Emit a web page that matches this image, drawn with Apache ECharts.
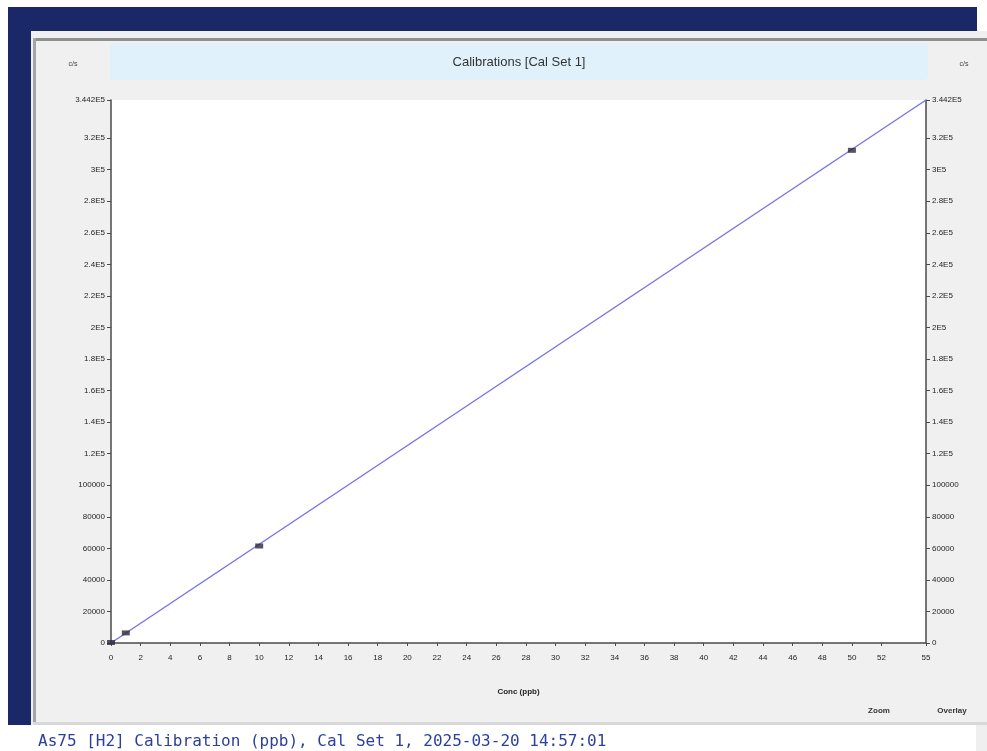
<!DOCTYPE html>
<html>
<head>
<meta charset="utf-8">
<title>Calibrations [Cal Set 1]</title>
<script src="https://cdn.jsdelivr.net/npm/echarts@6/dist/echarts.min.js"></script>
<style>
  html, body { margin: 0; padding: 0; background: #ffffff; }
  #chart { width: 987px; height: 751px; }
</style>
</head>
<body>
<div id="chart"></div>
<script>
// Calibration standards (concentration in ppb, response in counts/s)
const stdConc = [0, 1, 10, 50];
const stdCps = [300, 6400, 61500, 312300];

// Calibration curve end points
const curveConc = [0, 55];
const curveCps = [0, 344200];

// Axis ticks and their labels
const xTickValues = [0, 2, 4, 6, 8, 10, 12, 14, 16, 18, 20, 22, 24, 26, 28, 30, 32, 34, 36, 38, 40, 42, 44, 46, 48, 50, 52, 55];
const xTickLabels = ['0', '2', '4', '6', '8', '10', '12', '14', '16', '18', '20', '22', '24', '26', '28', '30', '32', '34', '36', '38', '40', '42', '44', '46', '48', '50', '52', '55'];
const yTickValues = [0, 20000, 40000, 60000, 80000, 100000, 120000, 140000, 160000, 180000, 200000, 220000, 240000, 260000, 280000, 300000, 320000, 344200];
const yTickLabels = ['0', '20000', '40000', '60000', '80000', '100000', '1.2E5', '1.4E5', '1.6E5', '1.8E5', '2E5', '2.2E5', '2.4E5', '2.6E5', '2.8E5', '3E5', '3.2E5', '3.442E5'];

const chart = echarts.init(document.getElementById('chart'), null, { renderer: 'canvas' });

const labelFont = { fontFamily: 'Liberation Sans, Arial, sans-serif', fontSize: 8, color: '#1e1e1e' };

function yLabel(v) {
  const i = yTickValues.indexOf(v);
  return i >= 0 ? yTickLabels[i] : '';
}
function xLabel(v) {
  const i = xTickValues.indexOf(v);
  return i >= 0 ? xTickLabels[i] : '';
}

function yAxisDef(position) {
  return {
    type: 'value',
    position: position,
    min: 0,
    max: curveCps[1],
    splitLine: { show: false },
    axisLine: { show: true, lineStyle: { color: '#4a4a4a', width: 1.5 } },
    axisTick: { show: true, length: 4, customValues: yTickValues, lineStyle: { color: '#4a4a4a', width: 1 } },
    axisLabel: Object.assign({ customValues: yTickValues, formatter: yLabel, margin: 6 }, labelFont)
  };
}

const option = {
  animation: false,
  backgroundColor: 'transparent',
  grid: {
    left: 111, right: 61, top: 100, bottom: 108,
    show: true, backgroundColor: '#ffffff', borderWidth: 0
  },
  xAxis: {
    type: 'value',
    min: 0,
    max: 55,
    name: 'Conc (ppb)',
    nameLocation: 'middle',
    nameGap: 45,
    nameTextStyle: { fontFamily: 'Liberation Sans, Arial, sans-serif', fontSize: 8, color: '#222', fontWeight: 'bold' },
    splitLine: { show: false },
    axisLine: { show: true, lineStyle: { color: '#4a4a4a', width: 1.5 } },
    axisTick: { show: true, length: 3, customValues: xTickValues, lineStyle: { color: '#4a4a4a', width: 1 } },
    axisLabel: Object.assign({ customValues: xTickValues, formatter: xLabel, margin: 11 }, labelFont)
  },
  yAxis: [yAxisDef('left'), yAxisDef('right')],
  series: [
    {
      name: 'Curve',
      type: 'line',
      data: curveConc.map((c, i) => [c, curveCps[i]]),
      showSymbol: false,
      lineStyle: { color: '#7777e6', width: 1.5 },
      silent: true,
      z: 2
    },
    {
      name: 'Standards',
      type: 'scatter',
      data: stdConc.map((c, i) => [c, stdCps[i]]),
      symbol: 'rect',
      symbolSize: [8, 5],
      itemStyle: { color: '#2b2b3b' },
      z: 3
    }
  ],
  graphic: [
    // window backdrop
    { type: 'rect', shape: { x: 8, y: 7, width: 969, height: 24 }, style: { fill: '#1b2868' }, z: -20, silent: true },
    { type: 'rect', shape: { x: 8, y: 7, width: 24, height: 718 }, style: { fill: '#1b2868' }, z: -20, silent: true },
    { type: 'rect', shape: { x: 31, y: 31, width: 956, height: 694 }, style: { fill: '#f0f0f0' }, z: -19, silent: true },
    // frame lines
    { type: 'rect', shape: { x: 33, y: 38, width: 954, height: 3 }, style: { fill: '#8d8f91' }, z: -18, silent: true },
    { type: 'rect', shape: { x: 33, y: 38, width: 3, height: 687 }, style: { fill: '#a3a5a7' }, z: -18, silent: true },
    // status band
    { type: 'rect', shape: { x: 33, y: 722, width: 954, height: 3 }, style: { fill: '#d8d8d8' }, z: -18, silent: true },
    { type: 'rect', shape: { x: 36, y: 725, width: 940, height: 26 }, style: { fill: '#ffffff' }, z: -18, silent: true },
    { type: 'rect', shape: { x: 976, y: 725, width: 11, height: 26 }, style: { fill: '#efefef' }, z: -18, silent: true },
    // title bar
    { type: 'rect', shape: { x: 110, y: 43, width: 818, height: 37, r: 4 }, style: { fill: '#e1f1fb' }, z: -17, silent: true },
    { type: 'text', x: 519, y: 62, style: { text: 'Calibrations [Cal Set 1]', fill: '#333333', fontFamily: 'Liberation Sans, Arial, sans-serif', fontSize: 13, align: 'center', verticalAlign: 'middle' }, z: 5 },
    { type: 'text', x: 73, y: 64, style: { text: 'c/s', fill: '#444', fontFamily: 'Liberation Sans, Arial, sans-serif', fontSize: 7, align: 'center', verticalAlign: 'middle' }, z: 5 },
    { type: 'text', x: 964, y: 64, style: { text: 'c/s', fill: '#444', fontFamily: 'Liberation Sans, Arial, sans-serif', fontSize: 7, align: 'center', verticalAlign: 'middle' }, z: 5 },
    // buttons
    { type: 'text', x: 879, y: 711, style: { text: 'Zoom', fill: '#333', fontFamily: 'Liberation Sans, Arial, sans-serif', fontSize: 8, fontWeight: 'bold', align: 'center', verticalAlign: 'middle' }, z: 5 },
    { type: 'text', x: 952, y: 711, style: { text: 'Overlay', fill: '#333', fontFamily: 'Liberation Sans, Arial, sans-serif', fontSize: 8, fontWeight: 'bold', align: 'center', verticalAlign: 'middle' }, z: 5 },
    // status line
    { type: 'text', x: 38, y: 742, style: { text: 'As75 [H2] Calibration (ppb), Cal Set 1, 2025-03-20 14:57:01', fill: '#2c3f9c', fontFamily: 'DejaVu Sans Mono, monospace', fontSize: 16, align: 'left', verticalAlign: 'middle' }, z: 5 }
  ]
};

chart.setOption(option);
</script>
</body>
</html>
